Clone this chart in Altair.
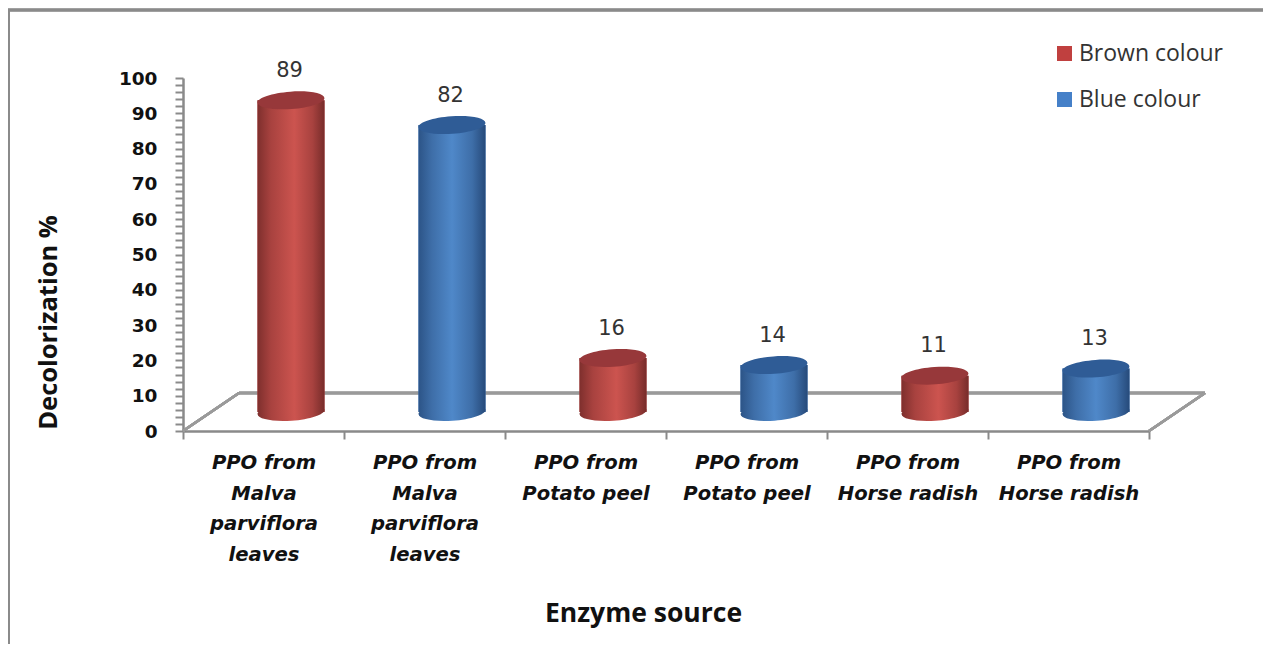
import altair as alt
import pandas as pd

ids = ["PPO from|Malva|parviflora|leaves#1", "PPO from|Malva|parviflora|leaves#2",
       "PPO from|Potato peel#1", "PPO from|Potato peel#2",
       "PPO from|Horse radish#1", "PPO from|Horse radish#2"]
series = ["Brown colour", "Blue colour"] * 3
values = [89, 82, 16, 14, 11, 13]
legend_colors = ["#c0403f", "#4580c8"]
series_names = ["Brown colour", "Blue colour"]

df = pd.DataFrame({"id": ids, "series": series, "value": values})
data = alt.Data(values=df.to_dict("records"))

GREY = "#8a8a8a"
DX = 27.5
DY_TOP = -16.5
DY_BASE = -19
BAR_W = 67
E_SIZE = BAR_W ** 2
ELLIPSE = ("M-1,0C-1,-0.144 -0.552,-0.26 0,-0.26C0.552,-0.26 1,-0.144 1,0"
           "C1,0.144 0.552,0.26 0,0.26C-0.552,0.26 -1,0.144 -1,0Z")

x_axis = alt.Axis(title="Enzyme source", titleFont="Open Sans", titleFontWeight="bold",
                  titleFontSize=26.5, titleColor="#111", titleX=460, titleY=182,
                  titleBaseline="middle",
                  tickBand="extent", labelAngle=0, labelAlign="center", labelBaseline="top",
                  labelExpr="split(split(datum.label,'#')[0],'|')",
                  labelFont="DejaVu Sans", labelFontWeight="bold", labelFontStyle="italic",
                  labelFontSize=19.6, labelColor="#111", labelLineHeight=30.5,
                  labelPadding=14.5, labelOverlap=False, labelLimit=300,
                  domainColor=GREY, domainWidth=2.5, tickColor=GREY, tickWidth=2, tickSize=8,
                  grid=False)
y_axis = alt.Axis(title="Decolorization %", titleFont="Open Sans", titleFontWeight="bold",
                  titleFontSize=25.5, titleColor="#111", titleAngle=270, titleX=-135, titleY=244,
                  titleBaseline="middle", titleAlign="center",
                  values=list(range(0, 101, 2)),
                  labelExpr="datum.value % 10 === 0 ? datum.value : ''",
                  labelFont="DejaVu Sans", labelFontWeight="bold", labelFontSize=18.5,
                  labelColor="#111", labelPadding=18, labelOverlap=False,
                  domainColor=GREY, domainWidth=2.5, tickColor=GREY, tickWidth=2, tickSize=8,
                  grid=False)
y_scale = alt.Scale(domain=[0, 100])
X = alt.X("id:N", sort=ids, scale=alt.Scale(domain=ids, paddingInner=0, paddingOuter=0), axis=x_axis)
Y = alt.Y("value:Q", scale=y_scale, axis=y_axis)
Y0 = alt.Y(datum=0, type="quantitative", scale=y_scale, axis=y_axis)


def grad(stops):
    return alt.Gradient(gradient="linear", x1=0, x2=1, y1=0, y2=0,
                        stops=[alt.GradientStop(offset=o, color=c) for o, c in stops])


side = {
    "Brown colour": grad([(0, "#7e2f2d"), (0.2, "#a8423f"), (0.55, "#cc544f"), (0.82, "#a8423f"), (1, "#772c2a")]),
    "Blue colour": grad([(0, "#2c5487"), (0.2, "#3e6ea8"), (0.5, "#4f88c9"), (0.8, "#3e6ea8"), (1, "#264a7a")]),
}
cap = {"Brown colour": "#97383a", "Blue colour": "#2f5c96"}

floor_color = "#9a9a9a"
rules = [
    alt.Chart(data).mark_rule(color=floor_color, strokeWidth=2.5).encode(
        x=alt.value(x1), x2=alt.value(x2), y=alt.value(y1), y2=alt.value(y2))
    for x1, x2, y1, y2 in [(0, 56, 353, 315), (56, 1022, 315, 315), (966, 1022, 353, 315)]
]
frame = [
    alt.Chart(data).mark_rule(color=GREY, strokeWidth=2.5).encode(
        x=alt.value(-175), x2=alt.value(1080), y=alt.value(-68), y2=alt.value(-68)),
    alt.Chart(data).mark_rule(color=GREY, strokeWidth=3).encode(
        x=alt.value(-175), x2=alt.value(-175), y=alt.value(-68), y2=alt.value(566)),
]

flat = alt.Chart(data).mark_bar(size=BAR_W, orient="vertical", xOffset=DX, yOffset=DY_TOP, y2Offset=DY_BASE).encode(
    x=X, y=Y, y2=alt.Y2(datum=0),
    color=alt.Color("series:N", sort=series_names,
                    scale=alt.Scale(domain=series_names, range=legend_colors),
                    legend=alt.Legend(title=None, orient="none", legendX=870, legendY=-36,
                                      symbolType="square", symbolSize=225, symbolStrokeWidth=0,
                                      labelFont="Open Sans", labelFontSize=23, labelColor="#333",
                                      labelOffset=3, rowPadding=22, labelLimit=300)),
)

shapes = []
for s in series_names:
    sub = alt.Chart(data).transform_filter(alt.datum.series == s)
    shapes.append(sub.mark_point(filled=True, shape=ELLIPSE, size=E_SIZE, angle=356, opacity=1,
                                 fill=side[s], xOffset=DX, yOffset=DY_BASE).encode(x=X, y=Y0))
    shapes.append(sub.mark_bar(size=BAR_W, orient="vertical", xOffset=DX, yOffset=DY_TOP, y2Offset=DY_BASE,
                               fill=side[s]).encode(x=X, y=Y, y2=alt.Y2(datum=0)))
    shapes.append(sub.mark_point(filled=True, shape=ELLIPSE, size=E_SIZE, angle=356, opacity=1,
                                 fill=cap[s], xOffset=DX, yOffset=DY_TOP).encode(x=X, y=Y))

labels = alt.Chart(data).mark_text(font="DejaVu Sans", fontSize=21, color="#333", xOffset=26, yOffset=-46).encode(
    x=X, y=Y, text="value:Q")

chart = alt.layer(*rules, *frame, flat, *shapes, labels).properties(
    width=966, height=353,
    padding={"left": 175, "top": 70, "right": 114, "bottom": 213},
    autosize=alt.AutoSizeParams(type="none"),
    background="white",
).configure_view(stroke=None)

chart.save("out.html", embed_options={"renderer": "svg", "actions": False})
